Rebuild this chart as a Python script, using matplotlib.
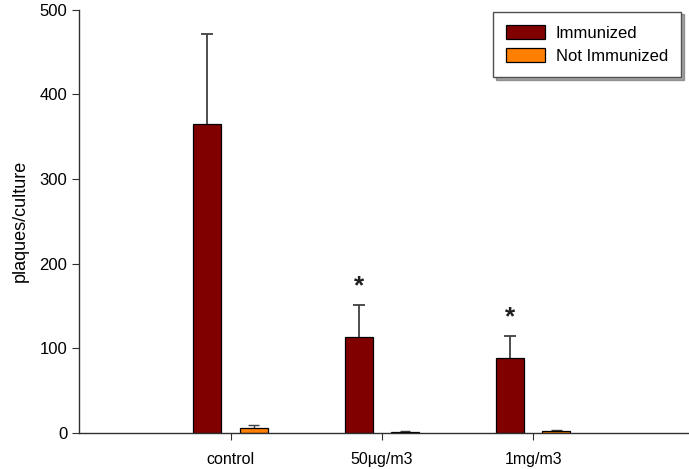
import matplotlib
matplotlib.use("Agg")
import matplotlib.pyplot as plt
import numpy as np

plt.rcParams['font.family'] = ['Liberation Sans', 'DejaVu Sans']

categories = ["control", "50\u00b5g/m3", "1mg/m3"]
immunized = [365, 113, 89]
immunized_err = [107, 38, 26]
not_immunized = [6, 1.5, 2]
not_immunized_err = [3, 1, 1.5]
significant = [False, True, True]

fig = plt.figure(figsize=(6.89, 4.69), dpi=100)
ax = fig.add_axes([0.115, 0.077, 0.885, 0.902])

x = np.arange(len(categories))
w = 0.185
off = 0.153
ax.bar(x - off, immunized, w, color="#800000", edgecolor="black", linewidth=0.9,
       label="Immunized", zorder=2)
ax.bar(x + off, not_immunized, w, color="#FF8000", edgecolor="black", linewidth=0.9,
       label="Not Immunized", zorder=2)


def up_errors(xs, vals, errs, capw, lw):
    xs = np.asarray(xs, float)
    vals = np.asarray(vals, float)
    tops = vals + np.asarray(errs, float)
    ax.vlines(xs, vals, tops, colors="#404040", linewidth=lw, zorder=1)
    ax.hlines(tops, xs - capw, xs + capw, colors="#404040", linewidth=lw, zorder=1)


up_errors(x - off, immunized, immunized_err, 0.04, 1.3)
up_errors(x + off, not_immunized, not_immunized_err, 0.035, 1.0)

for xi, v, e, s in zip(x, immunized, immunized_err, significant):
    if s:
        ax.text(xi - off, v + e + 22, "*", ha="center", va="center", fontsize=19,
                fontweight="bold", color="#202020")

ax.set_xlim(-1.0, 3.03)
ax.set_ylim(0, 500)
ax.set_xticks(x)
ax.set_xticklabels(categories, fontsize=11.5)
ax.set_yticks([0, 100, 200, 300, 400, 500])
ax.tick_params(axis="y", labelsize=12, direction="out", length=5, color="#303030")
ax.tick_params(axis="x", direction="out", length=5, color="#303030", pad=9)
ax.set_ylabel("plaques/culture", fontsize=13, labelpad=8)
for sp in ["top", "right"]:
    ax.spines[sp].set_visible(False)
for sp in ["left", "bottom"]:
    ax.spines[sp].set_color("#303030")
    ax.spines[sp].set_linewidth(1.0)

leg = ax.legend(loc="upper right", bbox_to_anchor=(0.99, 1.0), borderaxespad=0.1,
                fontsize=12, frameon=True, fancybox=False, shadow=True,
                edgecolor="#505050", handlelength=2.3, handleheight=0.9,
                handletextpad=0.65, borderpad=0.8, labelspacing=0.45)
leg.get_frame().set_linewidth(1.0)

fig.savefig("out.png", dpi=100)
